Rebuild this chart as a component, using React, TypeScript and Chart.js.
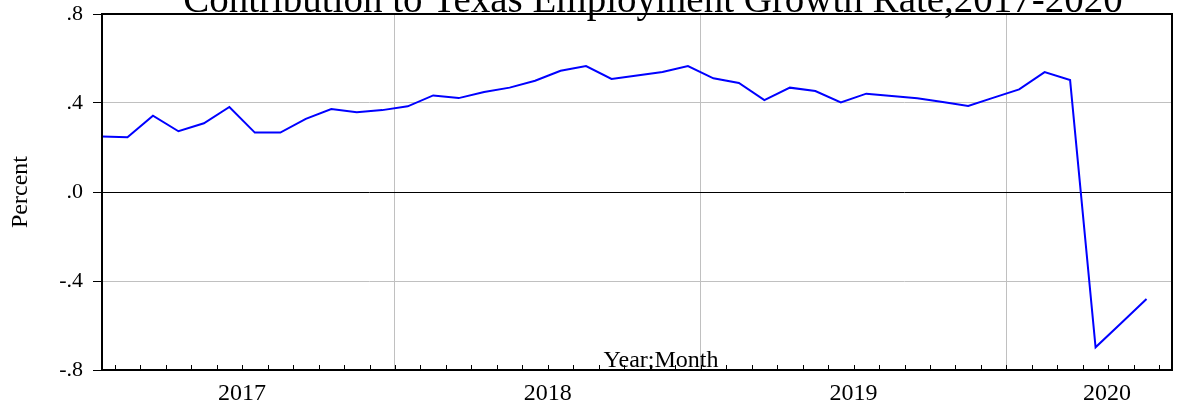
import React, { useEffect, useRef } from 'react';
import { Chart, registerables } from 'chart.js';

Chart.register(...registerables);

const months = [
  '2017M01', '2017M02', '2017M03', '2017M04', '2017M05', '2017M06', '2017M07', '2017M08', '2017M09', '2017M10', '2017M11', '2017M12',
  '2018M01', '2018M02', '2018M03', '2018M04', '2018M05', '2018M06', '2018M07', '2018M08', '2018M09', '2018M10', '2018M11', '2018M12',
  '2019M01', '2019M02', '2019M03', '2019M04', '2019M05', '2019M06', '2019M07', '2019M08', '2019M09', '2019M10', '2019M11', '2019M12',
  '2020M01', '2020M02', '2020M03', '2020M04', '2020M05', '2020M06',
];

const values = [
  0.249, 0.246, 0.343, 0.273, 0.309, 0.382, 0.267, 0.267, 0.329, 0.373, 0.358, 0.368,
  0.385, 0.434, 0.422, 0.449, 0.469, 0.5, 0.545, 0.566, 0.508, 0.524, 0.539, 0.566,
  0.511, 0.49, 0.413, 0.469, 0.454, 0.403, 0.442, 0.431, 0.421, 0.404, 0.387, 0.424,
  0.461, 0.539, 0.503, -0.698, -0.59, -0.481,
];

const yearLabels = ['2017', '2018', '2019', '2020'];
const yearLabelAt = [5.5, 17.5, 29.5, 39.45];
const yearBoundaries = [11.5, 23.5, 35.5];
const yTicks = [-0.8, -0.4, 0, 0.4, 0.8];

const titleText = 'Contribution to Texas Employment Growth Rate,2017-2020';
const xAxisText = 'Year;Month';
const yAxisText = 'Percent';

const SERIF = '"Liberation Serif", "Times New Roman", serif';

const overlay = {
  id: 'overlay',
  afterDraw(chart: any) {
    const { ctx, chartArea: a, scales } = chart;
    ctx.save();
    ctx.strokeStyle = '#000';
    ctx.lineWidth = 1;
    scales.x.ticks.forEach((t: any) => {
      const px = Math.round(scales.x.getPixelForValue(t.value)) + 0.5;
      ctx.beginPath();
      ctx.moveTo(px, a.bottom);
      ctx.lineTo(px, a.bottom - 5);
      ctx.stroke();
    });
    ctx.lineWidth = 2;
    ctx.strokeRect(a.left, a.top, a.right - a.left, a.bottom - a.top);
    const cx = (a.left + a.right) / 2;
    ctx.fillStyle = '#000';
    ctx.textAlign = 'center';
    ctx.textBaseline = 'alphabetic';
    ctx.font = `39px ${SERIF}`;
    ctx.fillText(titleText, cx + 16, a.top - 2);
    ctx.font = `24px ${SERIF}`;
    ctx.fillText(xAxisText, cx + 24, a.bottom - 3);
    ctx.restore();
  },
};

export default function App() {
  const ref = useRef<HTMLCanvasElement | null>(null);

  useEffect(() => {
    document.body.style.margin = '0';
    const canvas = ref.current;
    if (!canvas) return;
    const chart = new Chart(canvas, {
      type: 'line',
      data: {
        labels: months,
        datasets: [
          {
            label: 'Contribution',
            data: values.map((v, i) => ({ x: i, y: v })),
            borderColor: '#0000ff',
            borderWidth: 2,
            pointRadius: 0,
            tension: 0,
            fill: false,
          },
        ],
      },
      options: {
        animation: false,
        responsive: false,
        devicePixelRatio: 1,
        layout: { padding: { top: 14, right: 5, left: 0, bottom: 0 } },
        plugins: {
          legend: { display: false },
          tooltip: { enabled: false },
          title: { display: false },
        },
        scales: {
          x: {
            type: 'linear',
            position: 'bottom',
            weight: 0,
            min: 0,
            max: 42,
            afterBuildTicks: (scale: any) => {
              scale.ticks = months.map((_, i) => ({ value: i + 0.5 }));
            },
            afterFit: (scale: any) => {
              scale.height = 0;
              scale.paddingLeft = 0;
              scale.paddingRight = 0;
            },
            ticks: { display: false },
            border: { display: false },
            grid: {
              drawTicks: false,
              lineWidth: 1,
              color: (c: any) =>
                yearBoundaries.some((b) => Math.abs(b - c.tick?.value) < 1e-6) ? '#c0c0c0' : 'rgba(0,0,0,0)',
            },
          },
          x2: {
            type: 'linear',
            position: 'bottom',
            weight: 1,
            min: 0,
            max: 42,
            afterBuildTicks: (scale: any) => {
              scale.ticks = yearLabelAt.map((v) => ({ value: v }));
            },
            afterFit: (scale: any) => {
              scale.height = 38;
              scale.paddingLeft = 0;
              scale.paddingRight = 0;
            },
            ticks: {
              autoSkip: false,
              maxRotation: 0,
              padding: 9,
              color: '#000',
              font: { family: SERIF, size: 24 },
              callback: (v: any) => {
                const idx = yearLabelAt.findIndex((p) => Math.abs(p - Number(v)) < 1e-6);
                return idx >= 0 ? yearLabels[idx] : '';
              },
            },
            border: { display: false },
            grid: { display: false, drawTicks: false },
          },
          y: {
            type: 'linear',
            min: -0.8,
            max: 0.8,
            afterBuildTicks: (scale: any) => {
              scale.ticks = yTicks.map((v) => ({ value: v }));
            },
            afterFit: (scale: any) => {
              scale.width = 102;
              scale.paddingTop = 0;
              scale.paddingBottom = 0;
            },
            ticks: {
              padding: 10,
              color: '#000',
              font: { family: SERIF, size: 22 },
              callback: (v: any) => {
                const n = Math.round(Number(v) * 10) / 10;
                if (n === 0) return '.0';
                const s = Math.abs(n).toFixed(1).replace(/^0/, '');
                return (n < 0 ? '-' : '') + s;
              },
            },
            border: { display: false },
            grid: {
              tickLength: 9,
              tickColor: '#000',
              lineWidth: 1,
              color: (c: any) => {
                const v = Math.round((c.tick?.value ?? 0) * 10) / 10;
                if (v === 0) return '#000';
                if (Math.abs(v) === 0.4) return '#c0c0c0';
                return 'rgba(0,0,0,0)';
              },
            },
            title: {
              display: true,
              text: yAxisText,
              color: '#000',
              font: { family: SERIF, size: 24 },
              padding: { top: 6, bottom: 0 },
            },
          },
        },
      },
      plugins: [overlay],
    } as any);
    return () => chart.destroy();
  }, []);

  return (
    <div style={{ width: 1177, height: 408 }}>
      <canvas ref={ref} width={1177} height={408} />
    </div>
  );
}
